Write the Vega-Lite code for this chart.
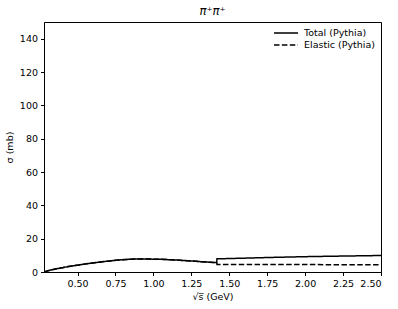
{
  "$schema": "https://vega.github.io/schema/vega-lite/v6.json",
  "autosize": "none",
  "width": 337,
  "height": 250,
  "padding": {"left": 44, "top": 22, "right": 17, "bottom": 37},
  "background": "white",
  "config": {
    "font": "DejaVu Sans",
    "view": {"stroke": "black", "strokeWidth": 1},
    "axis": {"grid": false, "domainColor": "black", "tickColor": "black", "labelColor": "black", "titleColor": "black", "labelFontSize": 9.5, "titleFontSize": 9.5, "titleFontWeight": "normal", "tickSize": 3.5, "labelPadding": 3}
  },
  "title": {"text": "π⁺π⁺", "fontSize": 11.5, "fontWeight": "normal", "font": "DejaVu Sans", "fontStyle": "italic", "offset": 5, "color": "black"},
  "data": {"values": [
    {"x": 0.279, "total": 0.0, "elastic": 0.0},
    {"x": 0.30, "total": 0.6, "elastic": 0.6},
    {"x": 0.33, "total": 1.3, "elastic": 1.3},
    {"x": 0.36, "total": 1.9, "elastic": 1.9},
    {"x": 0.40, "total": 2.6, "elastic": 2.6},
    {"x": 0.45, "total": 3.4, "elastic": 3.4},
    {"x": 0.50, "total": 4.1, "elastic": 4.1},
    {"x": 0.55, "total": 4.8, "elastic": 4.8},
    {"x": 0.60, "total": 5.4, "elastic": 5.4},
    {"x": 0.65, "total": 6.0, "elastic": 6.0},
    {"x": 0.70, "total": 6.5, "elastic": 6.5},
    {"x": 0.75, "total": 7.0, "elastic": 7.0},
    {"x": 0.80, "total": 7.4, "elastic": 7.4},
    {"x": 0.85, "total": 7.7, "elastic": 7.7},
    {"x": 0.90, "total": 7.8, "elastic": 7.8},
    {"x": 0.95, "total": 7.8, "elastic": 7.8},
    {"x": 1.00, "total": 7.7, "elastic": 7.7},
    {"x": 1.05, "total": 7.6, "elastic": 7.6},
    {"x": 1.10, "total": 7.4, "elastic": 7.4},
    {"x": 1.15, "total": 7.2, "elastic": 7.2},
    {"x": 1.20, "total": 6.9, "elastic": 6.9},
    {"x": 1.25, "total": 6.6, "elastic": 6.6},
    {"x": 1.30, "total": 6.3, "elastic": 6.3},
    {"x": 1.35, "total": 6.0, "elastic": 6.0},
    {"x": 1.417, "total": 5.6, "elastic": 5.6},
    {"x": 1.419, "total": 7.9, "elastic": 4.5},
    {"x": 1.60, "total": 8.3, "elastic": 4.5},
    {"x": 1.80, "total": 8.8, "elastic": 4.45},
    {"x": 2.00, "total": 9.2, "elastic": 4.45},
    {"x": 2.20, "total": 9.5, "elastic": 4.4},
    {"x": 2.50, "total": 9.9, "elastic": 4.4}
  ]},
  "transform": [
    {"fold": ["total", "elastic"], "as": ["key", "sigma"]},
    {"lookup": "key", "from": {"data": {"values": [{"key": "total", "series": "Total (Pythia)"}, {"key": "elastic", "series": "Elastic (Pythia)"}]}, "key": "key", "fields": ["series"]}}
  ],
  "mark": {"type": "line", "color": "black", "strokeWidth": 1.5, "clip": true},
  "encoding": {
    "x": {"field": "x", "type": "quantitative", "scale": {"domain": [0.279, 2.5], "nice": false, "zero": false},
      "axis": {"values": [0.5, 0.75, 1.0, 1.25, 1.5, 1.75, 2.0, 2.25, 2.5], "format": ".2f", "title": "√s̅ (GeV)", "titlePadding": 3}},
    "y": {"field": "sigma", "type": "quantitative", "scale": {"domain": [0, 150], "nice": false},
      "axis": {"values": [0, 20, 40, 60, 80, 100, 120, 140], "title": "σ (mb)", "titlePadding": 5}},
    "strokeDash": {"field": "series", "type": "nominal",
      "scale": {"domain": ["Total (Pythia)", "Elastic (Pythia)"], "range": [[1, 0], [5.5, 2.4]]},
      "legend": {"title": null, "orient": "none", "legendX": 229, "legendY": 5, "symbolType": "stroke", "symbolSize": 576, "symbolStrokeWidth": 1.5, "symbolStrokeColor": "black", "labelFontSize": 9.5, "labelColor": "black", "labelOffset": 5, "rowPadding": 0, "clipHeight": 12}},
    "detail": {"field": "series"}
  }
}
